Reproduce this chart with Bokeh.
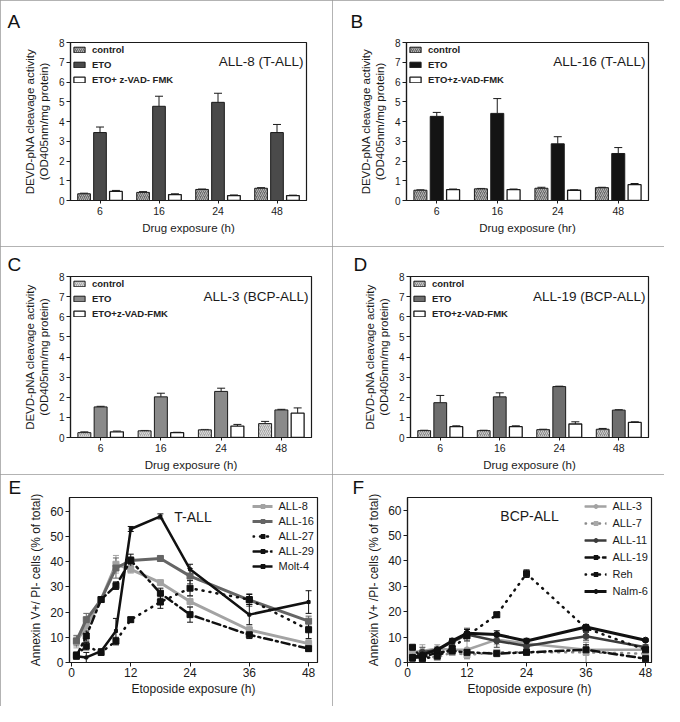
from bokeh.plotting import figure
from bokeh.models import (ColumnDataSource, Whisker, TeeHead, Legend, LegendItem,
                          Label, Range1d, FixedTicker)
from bokeh.transform import dodge
from bokeh.layouts import column, row
from bokeh.embed import file_html
from bokeh.resources import INLINE

FONT = "Liberation Sans"

# ---------------- data: caspase activity bar panels ----------------
times = ["6", "16", "24", "48"]

a_control = [0.34, 0.41, 0.56, 0.62]
a_control_err = [0.03, 0.04, 0.02, 0.03]
a_eto = [3.44, 4.77, 4.97, 3.44]
a_eto_err = [0.28, 0.51, 0.46, 0.41]
a_zvad = [0.46, 0.30, 0.25, 0.25]
a_zvad_err = [0.05, 0.04, 0.03, 0.02]

b_control = [0.52, 0.59, 0.62, 0.65]
b_control_err = [0.02, 0.02, 0.05, 0.02]
b_eto = [4.26, 4.41, 2.87, 2.38]
b_eto_err = [0.20, 0.75, 0.36, 0.30]
b_zvad = [0.55, 0.55, 0.52, 0.80]
b_zvad_err = [0.03, 0.03, 0.02, 0.06]

c_control = [0.24, 0.33, 0.38, 0.69]
c_control_err = [0.04, 0.02, 0.02, 0.11]
c_eto = [1.52, 2.02, 2.29, 1.37]
c_eto_err = [0.03, 0.18, 0.16, 0.03]
c_zvad = [0.28, 0.24, 0.57, 1.21]
c_zvad_err = [0.04, 0.02, 0.08, 0.26]

d_control = [0.34, 0.34, 0.39, 0.41]
d_control_err = [0.02, 0.02, 0.02, 0.04]
d_eto = [1.73, 2.02, 2.53, 1.36]
d_eto_err = [0.36, 0.20, 0.02, 0.02]
d_zvad = [0.54, 0.54, 0.67, 0.75]
d_zvad_err = [0.04, 0.04, 0.11, 0.03]

# ---------------- data: Annexin V time courses ----------------
hours = [1, 3, 6, 9, 12, 18, 24, 36, 48]

e_names = ["ALL-8", "ALL-16", "ALL-27", "ALL-29", "Molt-4"]
e_all8 = [8.3, 14.5, 25.0, 39.0, 37.0, 31.7, 24.2, 12.9, 7.5]
e_all8_err = [2.5, 3.0, 1.0, 3.5, 1.5, 1.0, 2.0, 1.5, 1.5]
e_all16 = [8.6, 17.0, 25.0, 37.5, 40.5, 41.3, 34.3, 24.8, 16.4]
e_all16_err = [2.0, 2.5, 1.0, 4.0, 1.5, 1.0, 3.0, 2.5, 2.0]
e_all27 = [3.0, 6.5, 4.0, 8.5, 17.0, 24.0, 29.5, 25.0, 13.0]
e_all27_err = [1.0, 1.5, 1.0, 1.5, 1.0, 2.5, 3.0, 2.0, 3.5]
e_all29 = [2.5, 10.5, 25.0, 30.5, 40.5, 27.5, 19.0, 11.0, 5.5]
e_all29_err = [1.0, 2.0, 1.0, 1.5, 2.5, 2.0, 3.0, 1.5, 1.0]
e_molt4 = [2.5, 2.0, 4.5, 12.5, 53.0, 58.0, 37.0, 19.0, 24.0]
e_molt4_err = [1.0, 2.0, 1.0, 5.0, 1.0, 1.0, 2.0, 4.0, 4.5]

f_names = ["ALL-3", "ALL-7", "ALL-11", "ALL-19", "Reh", "Nalm-6"]
f_all3 = [4.0, 4.5, 5.5, 5.0, 5.0, 9.0, 7.5, 5.0, 5.0]
f_all3_err = [1.5, 2.5, 1.5, 1.0, 3.5, 2.0, 1.5, 1.5, 1.0]
f_all7 = [3.0, 2.5, 2.0, 4.0, 3.0, 4.0, 4.0, 4.0, 3.5]
f_all7_err = [1.0, 1.0, 1.0, 1.0, 1.5, 1.0, 1.0, 4.0, 1.0]
f_all11 = [1.0, 4.0, 5.0, 8.0, 11.0, 8.5, 6.5, 10.3, 6.0]
f_all11_err = [1.0, 2.0, 1.0, 1.0, 2.5, 2.5, 1.0, 1.5, 1.0]
f_all19 = [2.0, 2.0, 4.0, 4.5, 4.0, 3.5, 4.0, 5.0, 1.5]
f_all19_err = [1.0, 1.0, 1.0, 1.5, 1.0, 0.5, 0.5, 2.0, 0.5]
f_reh = [6.0, 1.5, 2.5, 5.5, 10.5, 18.8, 35.0, 13.5, 5.0]
f_reh_err = [0.5, 0.5, 0.5, 1.0, 1.0, 1.0, 1.5, 1.0, 1.0]
f_nalm6 = [2.0, 3.0, 5.0, 8.5, 11.5, 11.0, 8.5, 14.0, 8.8]
f_nalm6_err = [1.0, 1.0, 1.0, 1.0, 1.5, 1.5, 1.0, 1.0, 0.5]

# ---------------- layout helpers (reference pixel geometry, scaled) ----------------
SX = 664 / 680
SY = 706 / 722


def geom(ox, oy, w, h, l, t, r, b, lx):
    W = round(w * SX)
    H = round(h * SY)
    L = round((l - ox) * SX)
    T = round((t - oy) * SY)
    R = W - round((r - ox) * SX)
    B = H - round((b - oy) * SY)
    fw = W - L - R
    fh = H - T - B
    letx = round((lx - ox) * SX - L)   # letter offset from frame left
    return dict(W=W, H=H, L=L, R=R, T=T, B=B, fw=fw, fh=fh, letx=letx)


def base_fig(g, x_range, y_range, panel_style):
    p = figure(x_range=x_range, y_range=y_range, width=g["W"], height=g["H"],
               min_border_left=g["L"], min_border_right=g["R"],
               min_border_top=g["T"], min_border_bottom=g["B"],
               output_backend="svg", toolbar_location=None)
    p.styles = panel_style
    p.xgrid.visible = False
    p.ygrid.visible = False
    p.outline_line_color = "#1a1a1a"
    p.outline_line_width = 1.2
    p.background_fill_color = "white"
    p.border_fill_color = "white"
    for ax in (p.xaxis[0], p.yaxis[0]):
        ax.axis_line_color = "#1a1a1a"
        ax.axis_line_width = 1.2
        ax.major_tick_line_color = "#1a1a1a"
        ax.minor_tick_line_color = None
        ax.major_label_text_font = FONT
        ax.axis_label_text_font = FONT
        ax.axis_label_text_font_style = "normal"
        ax.major_label_text_color = "#1a1a1a"
        ax.axis_label_text_color = "#1a1a1a"
    return p


def add_letter(p, g, letter, valign, standoff):
    t = p.title
    t.text = letter
    t.text_font = FONT
    t.text_font_size = "19px"
    t.text_font_style = "normal"
    t.text_color = "#111111"
    t.align = "left"
    t.offset = g["letx"]
    t.vertical_align = valign
    t.standoff = standoff


PANEL_STYLE = {"outline": "1px solid #9a9a9a", "outline-offset": "-1px"}


def bar_panel(g, letter, title, xlabel, ctrl, ctrl_err, eto, eto_err, zv, zv_err,
              ctrl_fill, ctrl_hatch, eto_fill, zv_label, valign, standoff):
    p = base_fig(g, times, Range1d(0, 8), PANEL_STYLE)
    src = ColumnDataSource(dict(
        t=times,
        ctrl=ctrl, ctrl_hi=[v + e for v, e in zip(ctrl, ctrl_err)],
        eto=eto, eto_hi=[v + e for v, e in zip(eto, eto_err)],
        zv=zv, zv_hi=[v + e for v, e in zip(zv, zv_err)],
    ))
    off = 0.27
    bw = 0.215
    p.vbar(x=dodge("t", -off, range=p.x_range), top="ctrl", width=bw, source=src,
           fill_color=ctrl_fill, hatch_pattern="/", hatch_color=ctrl_hatch,
           hatch_scale=4, hatch_weight=1, line_color="#1a1a1a", line_width=1,
           legend_label="control")
    p.vbar(x=dodge("t", 0, range=p.x_range), top="eto", width=bw, source=src,
           fill_color=eto_fill, line_color="#1a1a1a", line_width=1, legend_label="ETO")
    p.vbar(x=dodge("t", off, range=p.x_range), top="zv", width=bw, source=src,
           fill_color="white", line_color="#1a1a1a", line_width=1.3, legend_label=zv_label)
    for d, lo, hi in ((-off, "ctrl", "ctrl_hi"), (0, "eto", "eto_hi"), (off, "zv", "zv_hi")):
        p.add_layout(Whisker(base=dodge("t", d, range=p.x_range), lower=lo, upper=hi,
                             source=src, lower_head=None,
                             upper_head=TeeHead(size=8, line_color="#1a1a1a", line_width=1),
                             line_color="#1a1a1a", line_width=1))
    p.yaxis.ticker = FixedTicker(ticks=list(range(0, 9)))
    p.yaxis.major_label_text_font_size = "10px"
    p.xaxis.major_label_text_font_size = "10.5px"
    p.yaxis.major_tick_out = 4
    p.yaxis.major_tick_in = 0
    p.xaxis.major_tick_out = 3
    p.xaxis.major_tick_in = 0
    p.yaxis.major_label_standoff = 2
    p.xaxis.major_label_standoff = 3
    p.yaxis.axis_label = "DEVD-pNA cleavage activity\n(OD405nm/mg protein)"
    p.yaxis.axis_label_text_font_size = "11.5px"
    p.yaxis.axis_label_standoff = 6
    p.xaxis.axis_label = xlabel
    p.xaxis.axis_label_text_font_size = "11.5px"
    p.xaxis.axis_label_standoff = 4
    leg = p.legend[0]
    leg.location = "top_left"
    leg.border_line_color = None
    leg.background_fill_alpha = 0
    leg.glyph_width = 14
    leg.glyph_height = 7
    leg.label_height = 10
    leg.label_text_font = FONT
    leg.label_text_font_size = "9.5px"
    leg.label_text_font_style = "bold"
    leg.label_text_color = "#222222"
    leg.spacing = 4
    leg.padding = 5
    leg.margin = 2
    leg.label_standoff = 6
    p.add_layout(Label(x=g["fw"] - 3, y=g["fh"] - 20, x_units="screen", y_units="screen",
                       text=title, text_font=FONT, text_font_size="13.5px",
                       text_align="right", text_baseline="alphabetic", text_color="#1a1a1a"))
    add_letter(p, g, letter, valign, standoff)
    return p


def line_panel(g, letter, title, xr, yr, series, label_text, legend_spacing, glyph_w):
    p = base_fig(g, xr, yr, PANEL_STYLE)
    items = []
    for name, xs, ys, es, color, width, dash, marker, msize, mfill in series:
        src = ColumnDataSource(dict(x=xs, y=ys, lo=[v - e for v, e in zip(ys, es)],
                                    hi=[v + e for v, e in zip(ys, es)]))
        p.add_layout(Whisker(base="x", lower="lo", upper="hi", source=src,
                             line_color=color, line_width=1,
                             upper_head=TeeHead(size=6, line_color=color, line_width=1),
                             lower_head=TeeHead(size=6, line_color=color, line_width=1)))
        r1 = p.line("x", "y", source=src, line_color=color, line_width=width,
                    line_dash=dash, line_cap="round")
        r2 = p.scatter("x", "y", source=src, marker=marker, size=msize,
                       fill_color=mfill, line_color=mfill)
        items.append(LegendItem(label=name, renderers=[r1, r2]))
    leg = Legend(items=items, location="top_right", border_line_color=None,
                 background_fill_alpha=0, glyph_width=glyph_w, glyph_height=10,
                 label_height=11, spacing=legend_spacing, padding=3, margin=3,
                 label_text_font=FONT, label_text_font_size="11px",
                 label_text_color="#1a1a1a", label_standoff=6)
    p.add_layout(leg)
    p.xaxis.ticker = FixedTicker(ticks=[0, 12, 24, 36, 48])
    p.yaxis.ticker = FixedTicker(ticks=[0, 10, 20, 30, 40, 50, 60])
    p.xaxis.major_label_text_font_size = "12px"
    p.yaxis.major_label_text_font_size = "12px"
    p.xaxis.major_tick_out = 4
    p.xaxis.major_tick_in = 0
    p.yaxis.major_tick_out = 4
    p.yaxis.major_tick_in = 0
    p.xaxis.major_label_standoff = 1
    p.yaxis.major_label_standoff = 2
    p.xaxis.axis_label = "Etoposide exposure (h)"
    p.xaxis.axis_label_text_font_size = "12px"
    p.xaxis.axis_label_standoff = 2
    p.yaxis.axis_label = label_text
    p.yaxis.axis_label_text_font_size = "12px"
    p.yaxis.axis_label_standoff = 4
    p.add_layout(Label(x=24.6, y=57.7, text=title, text_font=FONT, text_font_size="14px",
                       text_align="center", text_baseline="alphabetic", text_color="#1a1a1a"))
    add_letter(p, g, letter, "bottom", 0)
    return p


# reference geometry: panel box, frame box, letter left edge
gA = geom(0, 0, 340, 252, 72, 43, 313, 206, 7)
gB = geom(340, 0, 340, 252, 416, 42, 664, 205, 358)
gC = geom(0, 252, 340, 233, 72, 283, 319, 447, 7)
gD = geom(340, 252, 340, 233, 420, 283, 664, 447, 362)
gE = geom(0, 485, 340, 237, 71, 509, 325, 678, 8)
gF = geom(340, 485, 340, 237, 417, 509, 667, 677, 360)

pA = bar_panel(gA, "A", "ALL-8 (T-ALL)", "Drug exposure (h)",
               a_control, a_control_err, a_eto, a_eto_err, a_zvad, a_zvad_err,
               "#6a6a6a", "#b5b5b5", "#4a4a4a", "ETO+ z-VAD- FMK", "top", gA["T"] - 24)
pB = bar_panel(gB, "B", "ALL-16 (T-ALL)", "Drug exposure (hr)",
               b_control, b_control_err, b_eto, b_eto_err, b_zvad, b_zvad_err,
               "#6a6a6a", "#b5b5b5", "#141414", "ETO+z-VAD-FMK", "top", gB["T"] - 24)
pC = bar_panel(gC, "C", "ALL-3 (BCP-ALL)", "Drug exposure (h)",
               c_control, c_control_err, c_eto, c_eto_err, c_zvad, c_zvad_err,
               "#a8a8a8", "#dcdcdc", "#8a8a8a", "ETO+z-VAD-FMK", "bottom", gC["T"] - 26)
pD = bar_panel(gD, "D", "ALL-19 (BCP-ALL)", "Drug exposure (h)",
               d_control, d_control_err, d_eto, d_eto_err, d_zvad, d_zvad_err,
               "#8a8a8a", "#cfcfcf", "#6e6e6e", "ETO+z-VAD-FMK", "bottom", gD["T"] - 26)

e_series = [
    ("ALL-8", hours, e_all8, e_all8_err, "#a3a3a3", 3, "solid", "square", 6, "#a3a3a3"),
    ("ALL-16", hours, e_all16, e_all16_err, "#656565", 3, "solid", "square", 6, "#656565"),
    ("ALL-27", hours, e_all27, e_all27_err, "#111111", 2.5, "1 6", "square", 6, "#111111"),
    ("ALL-29", hours, e_all29, e_all29_err, "#111111", 2.5, "8 4 2 4", "square", 6, "#111111"),
    ("Molt-4", hours, e_molt4, e_molt4_err, "#111111", 2.5, "solid", "square", 3, "#111111"),
]
f_series = [
    ("ALL-3", hours, f_all3, f_all3_err, "#a3a3a3", 2.5, "solid", "circle", 6, "#a3a3a3"),
    ("ALL-7", hours, f_all7, f_all7_err, "#8a8a8a", 2.5, "1 6", "square", 6, "#a8a8a8"),
    ("ALL-11", hours, f_all11, f_all11_err, "#3c3c3c", 2.5, "solid", "circle", 6, "#3c3c3c"),
    ("ALL-19", hours, f_all19, f_all19_err, "#111111", 2.5, "8 4 2 4", "square", 6, "#111111"),
    ("Reh", hours, f_reh, f_reh_err, "#111111", 2.5, "1 6", "square", 6, "#111111"),
    ("Nalm-6", hours, f_nalm6, f_nalm6_err, "#111111", 3, "solid", "circle", 6, "#111111"),
]

pE = line_panel(gE, "E", "T-ALL", Range1d(-0.4, 49.8), Range1d(0, 65.5), e_series,
                "Annexin V+/ PI- cells (% of total)", 3, 20)
pF = line_panel(gF, "F", "BCP-ALL", Range1d(0, 49.2), Range1d(0, 65), f_series,
                "Annexin V+ /PI- cells (% of total)", 5, 22)

layout = column(row(pA, pB), row(pC, pD), row(pE, pF))

open("out.html", "w").write(file_html(layout, INLINE))
